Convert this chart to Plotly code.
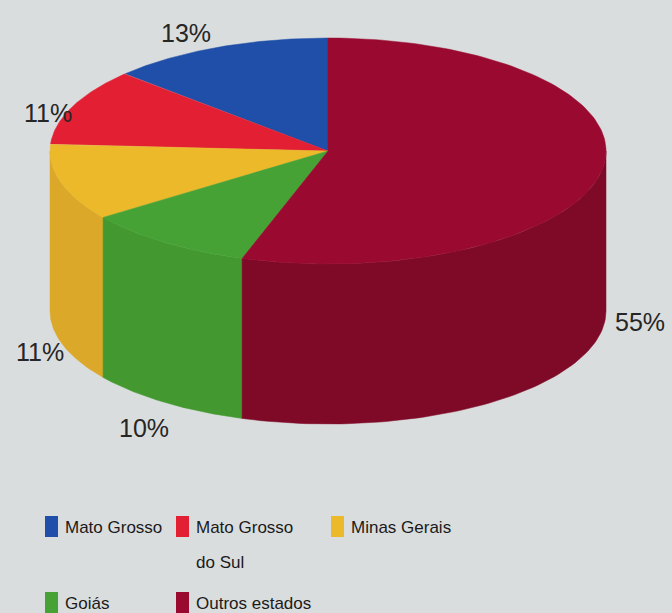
import numpy as np
import plotly.graph_objects as go

# Share of each state (percent)
states = ["Mato Grosso", "Mato Grosso<br>do Sul", "Minas Gerais", "Goiás", "Outros estados"]
shares = [13, 11, 11, 10, 55]
labels = ["13%", "11%", "11%", "10%", "55%"]
top_colors = ["#1f4fa8", "#e31f33", "#ecb92b", "#47a236", "#9a0a30"]
side_colors = ["#183f88", "#b81a2a", "#dba82a", "#43992f", "#7e0a28"]

FONT = "Liberation Sans, Arial, sans-serif"

# Projected pie geometry (in the pixel-scaled data space)
CX, CY = 328.0, 151.0   # centre of top face
RX, RY = 278.0, 113.0   # ellipse radii of top face
DEPTH = 160.0           # thickness of the disc
START = 90.0            # first slice starts at 12 o'clock, runs counter-clockwise


def pt(theta_deg, dy=0.0):
    t = np.radians(theta_deg)
    return CX + RX * np.cos(t), CY - RY * np.sin(t) + dy


fig = go.Figure()

# slice angle ranges
bounds = np.concatenate([[0], np.cumsum(shares)]) / sum(shares) * 360.0 + START
spans = list(zip(bounds[:-1], bounds[1:]))

# side walls: only the front half (180..360 deg, plus wrap) is visible
for (a0, a1), col in zip(spans, side_colors):
    for off in (0.0, 360.0):
        lo = max(a0, 180.0 + off)
        hi = min(a1, 360.0 + off)
        if hi <= lo:
            continue
        th = np.linspace(lo, hi, 80)
        xt, yt = pt(th)
        xb, yb = pt(th[::-1], DEPTH)
        fig.add_trace(go.Scatter(
            x=np.concatenate([xt, xb, xt[:1]]),
            y=np.concatenate([yt, yb, yt[:1]]),
            mode="lines", fill="toself", fillcolor=col,
            line=dict(color=col, width=0.5),
            hoverinfo="skip", showlegend=False))

# top faces
for (a0, a1), col in zip(spans, top_colors):
    th = np.linspace(a0, a1, 160)
    xs, ys = pt(th)
    fig.add_trace(go.Scatter(
        x=np.concatenate([[CX], xs, [CX]]),
        y=np.concatenate([[CY], ys, [CY]]),
        mode="lines", fill="toself", fillcolor=col,
        line=dict(color=col, width=0.5),
        hoverinfo="skip", showlegend=False))

# percentage labels placed outside the rim
label_pos = [(186, 33), (48, 113), (40, 352), (144, 428), (640, 322)]
for (lx, ly), txt in zip(label_pos, labels):
    fig.add_annotation(x=lx, y=ly, text=txt, showarrow=False,
                       font=dict(family=FONT, size=25, color="#262626"))

# legend: coloured squares with names (multi-line names get wide line spacing)
legend_pos = [(45, 527), (176, 527), (331, 527), (45, 603), (176, 603)]
for (lx, ly), name, col in zip(legend_pos, states, top_colors):
    fig.add_shape(type="rect", x0=lx, x1=lx + 13, y0=ly - 11, y1=ly + 10,
                  fillcolor=col, line=dict(width=0))
    for i, line in enumerate(name.split("<br>")):
        fig.add_annotation(x=lx + 18, y=ly + 35 * i, text=line, showarrow=False,
                           xanchor="left", yanchor="middle",
                           font=dict(family=FONT, size=17, color="#1a1a1a"))

fig.update_layout(
    width=672, height=613,
    margin=dict(l=0, r=0, t=0, b=0),
    paper_bgcolor="#dadddd", plot_bgcolor="#dadddd",
    xaxis=dict(range=[0, 672], visible=False, fixedrange=True),
    yaxis=dict(range=[613, 0], visible=False, fixedrange=True),
    showlegend=False,
)

fig.write_html("out.html")
